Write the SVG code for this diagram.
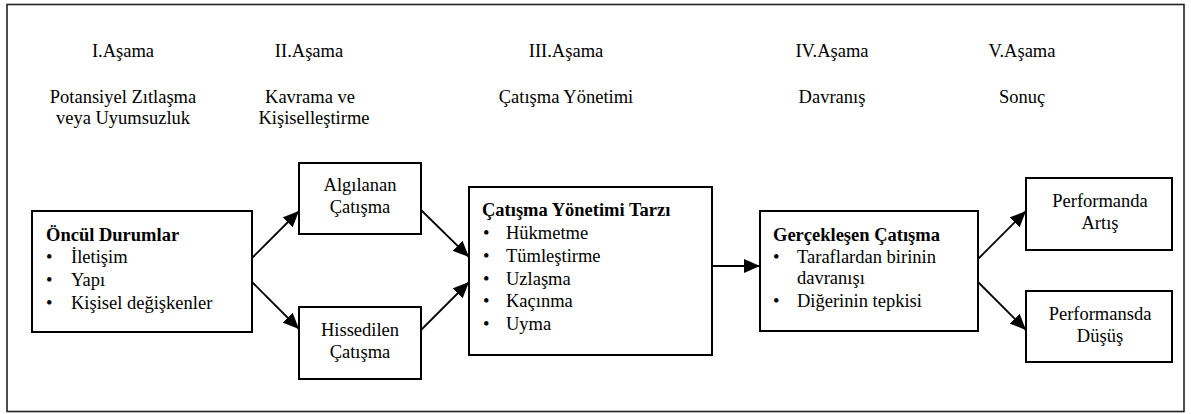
<svg xmlns="http://www.w3.org/2000/svg" width="1191" height="414" viewBox="0 0 1191 414" font-family="'Liberation Serif', 'Times New Roman', 'DejaVu Serif', serif">
<style>
text{font-family:'Liberation Serif','Times New Roman','DejaVu Serif',serif;font-size:18.5px;fill:#000}
.c{text-anchor:middle}
.b{font-weight:bold}
.box{fill:#fff;stroke:#000;stroke-width:2}
.conn{stroke:#000;stroke-width:1.8;fill:none;marker-end:url(#ah)}
</style>
<defs>
<marker id="ah" markerUnits="userSpaceOnUse" markerWidth="17" markerHeight="14" refX="16" refY="7" orient="auto">
<path d="M0,0 L16,7 L0,14 z" fill="#000"/>
</marker>
</defs>
<rect x="0" y="0" width="1191" height="414" fill="#fff"/>
<rect x="7" y="4.5" width="1177" height="407" fill="none" stroke="#222" stroke-width="1.6"/>
<g id="stages">
<text class="c" x="123" y="56.5">I.Aşama</text>
<text class="c" x="123" y="102.5">Potansiyel Zıtlaşma</text>
<text class="c" x="123" y="124">veya Uyumsuzluk</text>
<text class="c" x="309" y="56.5">II.Aşama</text>
<text class="c" x="310" y="102.5">Kavrama ve</text>
<text class="c" x="314" y="124">Kişiselleştirme</text>
<text class="c" x="566" y="56.5">III.Aşama</text>
<text class="c" x="566" y="102.5">Çatışma Yönetimi</text>
<text class="c" x="832" y="56.5">IV.Aşama</text>
<text class="c" x="832" y="102.5">Davranış</text>
<text class="c" x="1022" y="56.5">V.Aşama</text>
<text class="c" x="1022" y="102.5">Sonuç</text>
</g>
<g id="oncul">
<rect class="box" x="32" y="211" width="220" height="121"/>
<text class="b" x="46" y="241">Öncül Durumlar</text>
<text x="46" y="263">•</text><text x="71" y="263">İletişim</text>
<text x="46" y="286">•</text><text x="71" y="286">Yapı</text>
<text x="46" y="308.5">•</text><text x="71" y="308.5">Kişisel değişkenler</text>
</g>
<g id="algilanan">
<rect class="box" x="299" y="163" width="122" height="71"/>
<text class="c" x="360" y="191">Algılanan</text>
<text class="c" x="360" y="213">Çatışma</text>
</g>
<g id="hissedilen">
<rect class="box" x="299" y="307" width="122" height="72"/>
<text class="c" x="360" y="336">Hissedilen</text>
<text class="c" x="360" y="358">Çatışma</text>
</g>
<g id="tarz">
<rect class="box" x="469" y="187" width="243" height="168"/>
<text class="b" x="482" y="216">Çatışma Yönetimi Tarzı</text>
<text x="483" y="239">•</text><text x="506" y="239">Hükmetme</text>
<text x="483" y="262">•</text><text x="506" y="262">Tümleştirme</text>
<text x="483" y="284.5">•</text><text x="506" y="284.5">Uzlaşma</text>
<text x="483" y="307">•</text><text x="506" y="307">Kaçınma</text>
<text x="483" y="329.5">•</text><text x="506" y="329.5">Uyma</text>
</g>
<g id="gerceklesen">
<rect class="box" x="760" y="211" width="218" height="120"/>
<text class="b" x="773" y="241">Gerçekleşen Çatışma</text>
<text x="773" y="262.5">•</text><text x="797" y="262.5">Taraflardan birinin</text>
<text x="797" y="284">davranışı</text>
<text x="773" y="306.5">•</text><text x="797" y="306.5">Diğerinin tepkisi</text>
</g>
<g id="artis">
<rect class="box" x="1026" y="178" width="146" height="72"/>
<text class="c" x="1100" y="207">Performanda</text>
<text class="c" x="1100" y="229">Artış</text>
</g>
<g id="dusus">
<rect class="box" x="1026" y="291" width="146" height="71"/>
<text class="c" x="1100" y="320">Performansda</text>
<text class="c" x="1100" y="342">Düşüş</text>
</g>
<g id="connectors">
<line class="conn" x1="252" y1="258" x2="299" y2="211"/>
<line class="conn" x1="252" y1="282" x2="299" y2="329"/>
<line class="conn" x1="421" y1="210" x2="469" y2="257"/>
<line class="conn" x1="421" y1="330" x2="469" y2="282"/>
<line class="conn" x1="712" y1="266" x2="760" y2="266"/>
<line class="conn" x1="978" y1="259" x2="1026" y2="211"/>
<line class="conn" x1="978" y1="282" x2="1026" y2="330"/>
</g>
</svg>
